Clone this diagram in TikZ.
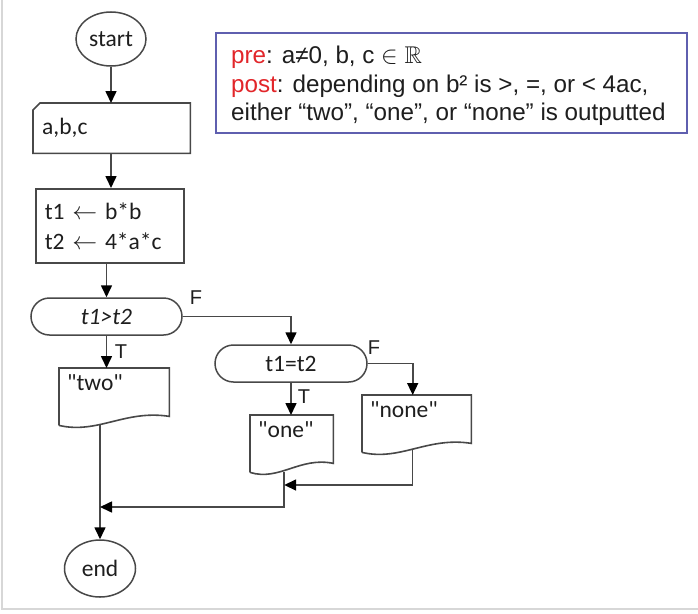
\documentclass[tikz,border=0pt]{standalone}
\usepackage{fontspec}
\usepackage{amssymb}
\setmainfont{Carlito}[Ligatures=TeXOff]
\newfontfamily\arialf{Liberation Sans}
\usetikzlibrary{shapes.geometric,shapes.misc,arrows.meta,calc}
\definecolor{linec}{RGB}{72,72,72}
\definecolor{txtc}{RGB}{30,30,30}
\definecolor{specblue}{RGB}{95,95,175}
\definecolor{prered}{RGB}{226,38,42}
\definecolor{framec}{RGB}{215,215,215}
\begin{document}
\begin{tikzpicture}[x=1pt,y=-1pt,
  every node/.style={text=txtc},
  flow/.style={draw=linec, line width=1.6pt},
  arr/.style={flow, -{Triangle[length=12pt,width=11pt,color=black]}},
  cfont/.style={font=\fontsize{23.5}{30}\selectfont},
  term/.style={ellipse, draw=linec, line width=1.5pt, inner sep=0pt, cfont},
  box/.style={rectangle, inner xsep=9pt, inner ysep=0pt, align=left, anchor=north west, cfont},
  dec/.style={rounded rectangle, draw=linec, line width=1.5pt, inner sep=0pt, minimum height=37pt, cfont},
  doc/.style={rectangle, inner xsep=8pt, inner ysep=0pt, align=left, anchor=north west, text height=22pt, cfont},
  tf/.style={font=\arialf\fontsize{20}{22}\selectfont, inner sep=0pt}
]
\fill[white] (0,0) rectangle (698,613);
\path[use as bounding box] (0,0) rectangle (698,613);
\draw[framec, line width=1.2pt] (2,0) -- (2,609) -- (698,609);

% specification box
\node[draw=specblue, line width=1.5pt, anchor=north west, minimum width=471pt, minimum height=100pt, inner sep=0pt] (spec) at (215,32) {};
\node[anchor=north west, align=left, inner sep=0pt, font=\arialf\fontsize{24.2}{28.5}\selectfont] (spectext) at (231,46)
  {{\color{prered}pre}: a≠0, b, c $\in$ $\mathbb{R}$\\
   {\color{prered}post}: depending on b² is >, =, or < 4ac,\\
   either “two”, “one”, or “none” is outputted};

% flowchart nodes
\node[term, minimum width=70pt, minimum height=54pt] (st) at (111,39) {start};
\node[box, minimum height=50pt, text width=139pt] (in) at (33,103) {a,b,c};
\draw[flow] ($(in.north west)+(0,7)$) -- ($(in.north west)+(7,0)$) -- (in.north east) -- (in.south east) -- (in.south west) -- cycle;
\node[box, draw=linec, line width=1.5pt, minimum height=74pt, text width=130pt] (pr) at (35,188) {t1 $\leftarrow$ b*b\\t2 $\leftarrow$ 4*a*c};
\node[dec, minimum width=151pt] (d1) at (106.5,316.5) {\itshape t1>t2};
\node[dec, minimum width=152pt] (d2) at (291,363.5) {t1=t2};
\node[doc, text width=94pt, text depth=35pt] (two) at (59,368) {"two"};
\node[doc, text width=67pt, text depth=35pt] (one) at (250,415) {"one"};
\node[doc, text width=93pt, text depth=35pt] (none) at (362,395) {"none"};
\foreach \n in {two,one,none}{
  \draw[flow] (\n.south west) -- (\n.north west) -- (\n.north east) -- ($(\n.south east)+(0,-9)$)
    .. controls ($(\n.south west)!0.6!(\n.south east)+(0,-16)$) and ($(\n.south west)!0.35!(\n.south east)+(0,9)$) .. (\n.south west);
}
\node[term, minimum width=71pt, minimum height=57pt] (en) at (100,568.5) {end};

% labels
\node[tf] (f1) at (196,298) {F};
\node[tf] (t1) at (121,352) {T};
\node[tf] (f2) at (374,348) {F};
\node[tf] (t2) at (304,397) {T};

% connectors
\coordinate (jA) at (0,485);
\coordinate (jB) at (0,507);
\coordinate (oneb) at ($(one.south west)!0.41!(one.south east)$);
\coordinate (noneb) at ($(none.south west)!0.46!(none.south east)+(0,-3)$);
\draw[arr] (st.south) -- (st.south |- in.north);
\draw[arr] (in.south -| st.south) -- (st.south |- pr.north);
\draw[arr] (pr.south -| d1.north) -- (d1.north);
\draw[arr] (d1.south) -- (d1.south |- two.north);
\draw[arr] (d1.east) -| (d2.north);
\draw[arr] (d2.south) -- (d2.south |- one.north);
\draw[arr] (d2.east) -| ([xshift=-4pt]none.north);
\draw[arr] (two.south -| en.north) -- (en.north);
\draw[arr] (oneb) |- (en.north |- jB);
\draw[arr] (noneb) |- (oneb |- jA);
\end{tikzpicture}
\end{document}
